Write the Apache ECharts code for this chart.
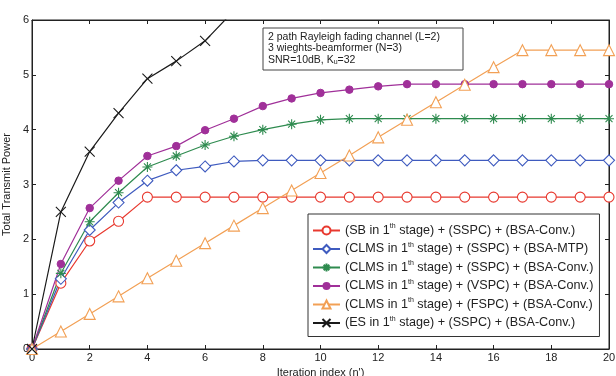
<!DOCTYPE html>
<html>
<head>
<meta charset="utf-8">
<script src="https://cdn.jsdelivr.net/npm/echarts@6/dist/echarts.min.js"></script>
<style>
html, body { margin: 0; padding: 0; background: #fff; }
#main { width: 616px; height: 376px; }
</style>
</head>
<body>
<div id="main"></div>
<script>
// iteration index n'
var iters = [0, 1, 2, 3, 4, 5, 6, 7, 8, 9, 10, 11, 12, 13, 14, 15, 16, 17, 18, 19, 20];

var sbSspcConv   = [0, 1.20, 1.97, 2.33, 2.77, 2.77, 2.77, 2.77, 2.77, 2.77, 2.77, 2.77, 2.77, 2.77, 2.77, 2.77, 2.77, 2.77, 2.77, 2.77, 2.77];
var clmsSspcMtp  = [0, 1.28, 2.17, 2.67, 3.07, 3.26, 3.33, 3.42, 3.44, 3.44, 3.44, 3.44, 3.44, 3.44, 3.44, 3.44, 3.44, 3.44, 3.44, 3.44, 3.44];
var clmsSspcConv = [0, 1.38, 2.32, 2.85, 3.32, 3.52, 3.72, 3.88, 4.00, 4.10, 4.18, 4.20, 4.20, 4.20, 4.20, 4.20, 4.20, 4.20, 4.20, 4.20, 4.20];
var clmsVspcConv = [0, 1.55, 2.57, 3.07, 3.52, 3.70, 3.99, 4.20, 4.43, 4.57, 4.67, 4.73, 4.79, 4.83, 4.83, 4.83, 4.83, 4.83, 4.83, 4.83, 4.83];
var clmsFspcConv = [0, 0.32, 0.64, 0.96, 1.29, 1.61, 1.93, 2.25, 2.57, 2.89, 3.21, 3.53, 3.86, 4.18, 4.50, 4.82, 5.14, 5.45, 5.45, 5.45, 5.45];
var esSspcConv   = [0, 2.50, 3.60, 4.30, 4.93, 5.25, 5.62, 6.17];

var seriesNames = [
	'(SB in 1th stage) + (SSPC) + (BSA-Conv.)',
	'(CLMS in 1th stage) + (SSPC) + (BSA-MTP)',
	'(CLMS in 1th stage) + (SSPC) + (BSA-Conv.)',
	'(CLMS in 1th stage) + (VSPC) + (BSA-Conv.)',
	'(CLMS in 1th stage) + (FSPC) + (BSA-Conv.)',
	'(ES in 1th stage) + (SSPC) + (BSA-Conv.)'
];

var starPath = 'path://M0,-10L0,10M-10,0L10,0M-7,-7L7,7M-7,7L7,-7';
var crossPath = 'path://M-10,-10L10,10M-10,10L10,-10';

function pairs(ys) {
	var out = [];
	for (var i = 0; i < ys.length; i++) out.push([iters[i], ys[i]]);
	return out;
}

function mkSeries(name, ys, color, symbol, size, filled) {
	return {
		name: name,
		type: 'line',
		data: pairs(ys),
		symbol: symbol,
		symbolSize: size,
		showAllSymbol: true,
		clip: true,
		lineStyle: { color: color, width: 1.2 },
		itemStyle: filled ? { color: color, borderColor: color } :
			{ color: symbol.indexOf('path://') === 0 ? 'none' : '#fff', borderColor: color, borderWidth: 1.1 },
		emphasis: { disabled: true },
		z: 3
	};
}

var myChart = echarts.init(document.getElementById('main'));
var baseFont = 'Liberation Sans, Arial, sans-serif';

var option = {
	animation: false,
	backgroundColor: '#fff',
	textStyle: { fontFamily: baseFont },
	grid: {
		left: 32, right: 7, top: 20, bottom: 27,
		outerBoundsMode: 'none',
		show: true, borderColor: '#222', borderWidth: 1
	},
	xAxis: [{
		type: 'value', min: 0, max: 20, interval: 2,
		name: "Iteration index (n')", nameLocation: 'middle', nameGap: 18,
		nameTextStyle: { color: '#222', fontSize: 11, fontFamily: baseFont },
		axisLine: { lineStyle: { color: '#222', width: 1 } },
		axisTick: { inside: true, length: 4, lineStyle: { color: '#222' } },
		axisLabel: { color: '#222', fontSize: 11, margin: 3 },
		splitLine: { show: false }
	}, {
		type: 'value', min: 0, max: 20, interval: 2, position: 'top',
		axisLine: { show: true, onZero: false, lineStyle: { color: '#222', width: 1 } },
		axisTick: { show: true, inside: true, length: 4, lineStyle: { color: '#222' } },
		axisLabel: { show: false },
		splitLine: { show: false }
	}],
	yAxis: [{
		type: 'value', min: 0, max: 6, interval: 1,
		name: 'Total Transmit Power', nameLocation: 'middle', nameGap: 17,
		nameTextStyle: { color: '#222', fontSize: 11, fontFamily: baseFont },
		axisLine: { lineStyle: { color: '#222', width: 1 } },
		axisTick: { inside: true, length: 4, lineStyle: { color: '#222' } },
		axisLabel: { color: '#222', fontSize: 11, margin: 3 },
		splitLine: { show: false }
	}, {
		type: 'value', min: 0, max: 6, interval: 1, position: 'right',
		axisLine: { show: true, onZero: false, lineStyle: { color: '#222', width: 1 } },
		axisTick: { show: true, inside: true, length: 4, lineStyle: { color: '#222' } },
		axisLabel: { show: false },
		splitLine: { show: false }
	}],
	legend: {
		orient: 'vertical',
		left: 308, top: 214,
		padding: [9, 6, 7, 4],
		itemGap: 4.5,
		itemWidth: 27, itemHeight: 10,
		backgroundColor: '#fff',
		borderColor: '#333', borderWidth: 1,
		data: seriesNames,
		formatter: function (name) {
			var parts = name.split('1th');
			return '{t|' + parts[0] + '1}{s|th}{t|' + parts[1] + '}';
		},
		textStyle: {
			rich: {
				t: { fontSize: 12.6, color: '#222', fontFamily: baseFont, lineHeight: 15 },
				s: { fontSize: 7, color: '#222', fontFamily: baseFont, lineHeight: 15, verticalAlign: 'top', padding: [0, 0, 4, 0] }
			}
		}
	},
	graphic: [{
		type: 'rect',
		shape: { x: 263, y: 28, width: 200, height: 42 },
		style: { fill: '#fff', stroke: '#444', lineWidth: 1 },
		z: 10
	}, {
		type: 'text',
		x: 268, y: 31,
		style: {
			text: '{a|2 path Rayleigh fading channel (L=2)}\n{a|3 wieghts-beamformer (N=3)}\n{a|SNR=10dB, K}{b|u}{a|=32}',
			rich: {
				a: { fontSize: 10.5, fill: '#222', fontFamily: baseFont, lineHeight: 11.5 },
				b: { fontSize: 7, fill: '#222', fontFamily: baseFont, lineHeight: 11.5, verticalAlign: 'bottom', padding: [4, 0, 0, 0] }
			}
		},
		z: 11
	}],
	series: [
		mkSeries(seriesNames[0], sbSspcConv, '#e8392f', 'circle', 10, false),
		mkSeries(seriesNames[1], clmsSspcMtp, '#3f5bbf', 'diamond', 11, false),
		mkSeries(seriesNames[2], clmsSspcConv, '#2e8b4f', starPath, 10, false),
		mkSeries(seriesNames[3], clmsVspcConv, '#a03099', 'circle', 7.5, true),
		mkSeries(seriesNames[4], clmsFspcConv, '#f2a055', 'triangle', 11, false),
		mkSeries(seriesNames[5], esSspcConv, '#1a1a1a', crossPath, 10, false)
	]
};
myChart.setOption(option);
</script>
</body>
</html>
